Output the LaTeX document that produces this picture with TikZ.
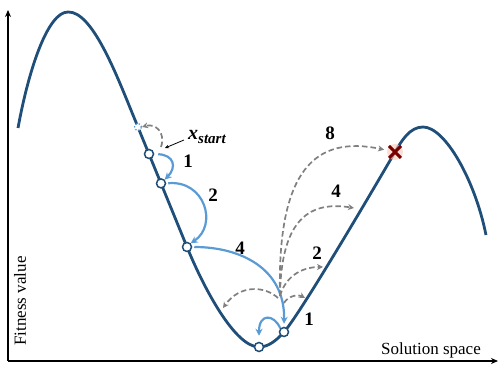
\documentclass[tikz,border=0pt]{standalone}
\usepackage{fontspec}
\setmainfont{Liberation Serif}
\usetikzlibrary{arrows.meta,shapes.misc}
\definecolor{curvecol}{RGB}{31,78,121}
\definecolor{bluearr}{RGB}{91,155,213}
\definecolor{grayarr}{RGB}{128,128,128}
\definecolor{goalred}{RGB}{120,0,0}
\definecolor{glow}{RGB}{250,200,180}
\tikzset{
  axis/.style={line width=1.6pt,-{Stealth[length=7pt,width=6pt]}},
  landscape/.style={line width=2.8pt,color=curvecol,line join=round},
  sol/.style={circle,draw=curvecol,fill=white,line width=1.5pt,minimum size=9pt,inner sep=0pt},
  bluemove/.style={line width=2.2pt,color=bluearr,-{Stealth[length=7pt,width=7pt]}},
  graymove/.style={line width=1.7pt,color=grayarr,dash pattern=on 5.5pt off 3pt,-{Stealth[length=6pt,width=6pt]}},
  numlab/.style={font=\fontsize{19}{22}\selectfont\bfseries,text=black,inner sep=0pt},
  axlab/.style={font=\fontsize{17}{20}\selectfont,text=black,inner sep=0pt},
}
\begin{document}
\begin{tikzpicture}[x=1pt,y=-1pt]
\useasboundingbox (0,0) rectangle (499,366);
% axes
\coordinate (o) at (8,361);
\coordinate (ytop) at (8,10);
\coordinate (xend) at (498,361);
\draw[axis] (o) -- (ytop);
\draw[axis] (o) -- (xend);
\node[axlab,rotate=90] (ylab) at (20,301) {Fitness value};
\node[axlab] (xlab) at (431,350) {Solution space};
% landscape
\draw[landscape] (18,128) .. controls (29,68) and (48,12) .. (68,12)
  .. controls (92,11) and (116,73.4) .. (133,115)
  -- (187,247)
  .. controls (204,288.6) and (235,347) .. (259,347)
  .. controls (268,347) and (276,341) .. (284,332)
  .. controls (300,314) and (370,195) .. (395,152)
  .. controls (402,140) and (410,127) .. (423,127)
  .. controls (445,127) and (475,180) .. (486,235);
% solutions
\node[sol] (c1) at (149,154) {};
\node[sol] (c2) at (161,183.4) {};
\node[sol] (c3) at (187,247) {};
\node[sol] (c4) at (259,347) {};
\node[sol] (c5) at (284,332) {};
\node[circle,draw=bluearr,fill=white,line width=1.3pt,dotted,minimum size=7pt,inner sep=0pt] (c0) at (138,127) {};
% goal
\fill[glow,opacity=0.6] (395,152) circle (8pt);
\node[cross out,draw=goalred,line width=3pt,minimum size=9pt,inner sep=0pt] (goal) at (395,152) {};
% start gray move
\coordinate (s0) at (161,147);
\draw[graymove] (s0) .. controls (166,132) and (155,123) .. (c0.east);
% x_start label
\node[inner sep=0pt,anchor=base west] (xs) at (188,140) {\fontsize{20}{22}\selectfont\bfseries\itshape x\raisebox{-0.2em}{\fontsize{15}{16}\selectfont start}};
\coordinate (xsa) at (184,140);
\coordinate (xsb) at (165,148);
\draw[line width=0.8pt,-{Stealth[length=4pt,width=3.5pt]}] (xsa) -- (xsb);
% blue moves
\draw[bluemove,shorten <=4pt] (c1.east) .. controls (174,155) and (177,167) .. (c2.north east);
\draw[bluemove,shorten <=2pt] (c2.east) .. controls (205,180) and (218,225) .. (c3.north east);
\draw[bluemove,shorten <=2pt,shorten >=3pt] (c3.east) .. controls (240,247) and (285,268) .. (c5.north);
\draw[bluemove,shorten >=6pt] (c5.north west) .. controls (274,314) and (259,313) .. (c4.north);
% labels
\node[numlab] (n1) at (188,161) {1};
\node[numlab] (n2) at (213,195) {2};
\node[numlab] (n4) at (240,248) {4};
% gray fan
\coordinate (f) at (280,296);
\coordinate (fL) at (278,298);
\coordinate (f1) at (284,303);
\coordinate (eL) at (223,308);
\coordinate (e1) at (305,298);
\coordinate (e2) at (323,267);
\coordinate (e4) at (354,208);
\draw[graymove] (fL) .. controls (265,286) and (240,284) .. (eL);
\draw[graymove] (f1) .. controls (288,296) and (298,294) .. (e1);
\draw[graymove] (f) .. controls (285,278) and (300,267) .. (e2);
\draw[graymove] (f) .. controls (281,225) and (305,200) .. (e4);
\draw[graymove,shorten >=5pt] (f) .. controls (277,170) and (315,135) .. (goal);
\node[numlab] (g1) at (309,319) {1};
\node[numlab] (g2) at (317,253) {2};
\node[numlab] (g4) at (336,191) {4};
\node[numlab] (g8) at (330,133) {8};
\end{tikzpicture}
\end{document}
